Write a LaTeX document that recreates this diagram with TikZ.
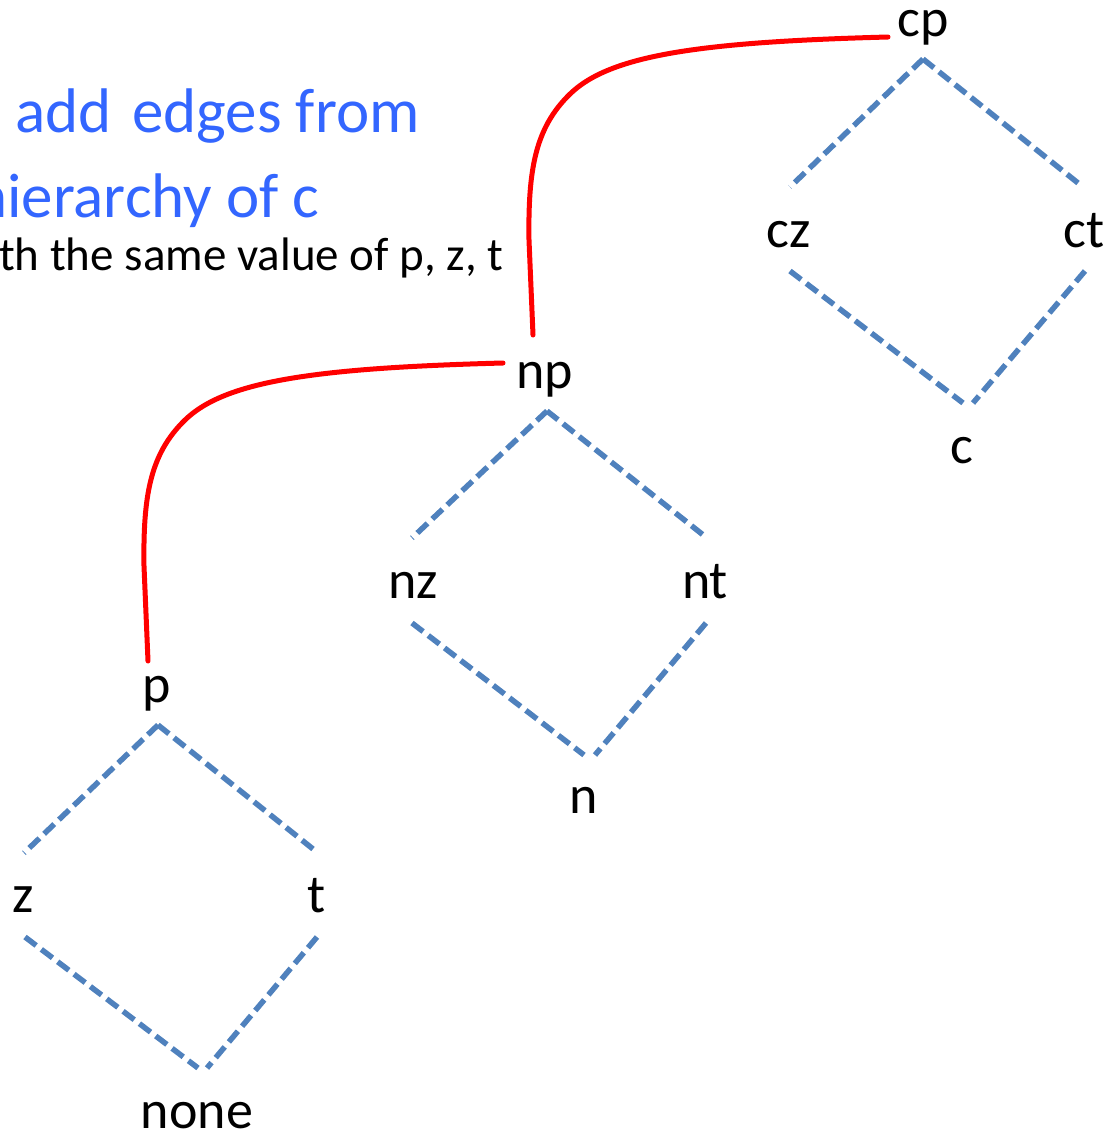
\documentclass[tikz,border=0pt]{standalone}
\usepackage{fontspec}
\setmainfont{Carlito}
\definecolor{dashblue}{RGB}{79,129,189}
\definecolor{titleblue}{RGB}{51,102,255}
\begin{document}
\begin{tikzpicture}[x=1pt,y=-1pt,
  lbl/.style={anchor=base,inner sep=0pt,font=\fontsize{54}{60}\selectfont},
  dl/.style={draw=dashblue,line width=5.5pt,dash pattern=on 14pt off 6.5pt},
  rl/.style={draw=red,line width=5pt,line cap=round}]
\useasboundingbox (0,0) rectangle (1115,1133);
% titles
\node[anchor=base west,inner sep=0pt,text=titleblue,font=\fontsize{63}{70}\selectfont] (t1) at (15,132) {add\hspace{0.1em} edges from};
\node[anchor=base west,inner sep=0pt,text=titleblue,font=\fontsize{63}{70}\selectfont] (t2) at (-26,217) {hierarchy of c};
\node[anchor=base west,inner sep=0pt,font=\fontsize{47}{54}\selectfont] (t3) at (-1,270) {th the same value of p, z, t};
% labels
\node[lbl] (cp) at (923,36) {cp};
\node[lbl] (cz) at (789,247) {cz};
\node[lbl] (ct) at (1084,247) {ct};
\node[lbl] (c) at (962,463) {c};
\node[lbl] (np) at (545,388) {np};
\node[lbl] (nz) at (413,598) {nz};
\node[lbl] (nt) at (705,598) {nt};
\node[lbl] (n) at (584,813) {n};
\node[lbl] (p) at (157,702) {p};
\node[lbl] (z) at (23,912) {z};
\node[lbl] (t) at (317,912) {t};
\node[lbl] (none) at (197,1128) {none};
% connector end points
\coordinate (cpB) at (923,59);
\coordinate (czT) at (790,187);
\coordinate (ctT) at (1083,187);
\coordinate (czB) at (790,271);
\coordinate (ctB) at (1085,271);
\coordinate (cTl) at (963,403);
\coordinate (cTr) at (973,403);
\coordinate (npB) at (547,411);
\coordinate (nzT) at (412,538);
\coordinate (ntT) at (707,538);
\coordinate (nzB) at (412,623);
\coordinate (ntB) at (706,623);
\coordinate (nTl) at (584,755);
\coordinate (nTr) at (595,755);
\coordinate (pB) at (158,725);
\coordinate (zT) at (24,853);
\coordinate (tT) at (318,853);
\coordinate (zB) at (25,937);
\coordinate (tB) at (317,937);
\coordinate (noneTl) at (198,1068);
\coordinate (noneTr) at (207,1068);
\coordinate (cpL) at (888,37);
\coordinate (npT) at (533,335);
\coordinate (npL) at (503,363);
\coordinate (pT) at (148,661);
% dashed lattice edges
\draw[dl] (cpB) -- (czT);
\draw[dl] (cpB) -- (ctT);
\draw[dl] (czB) -- (cTl);
\draw[dl] (ctB) -- (cTr);
\draw[dl] (npB) -- (nzT);
\draw[dl] (npB) -- (ntT);
\draw[dl] (nzB) -- (nTl);
\draw[dl] (ntB) -- (nTr);
\draw[dl] (pB) -- (zT);
\draw[dl] (pB) -- (tT);
\draw[dl] (zB) -- (noneTl);
\draw[dl] (tB) -- (noneTr);
% red hierarchy edges
\draw[rl] (cpL) .. controls (700,42) and (610,55) .. (570,94)
  .. controls (535,128) and (528,170) .. (529,240) -- (npT);
\draw[rl] (npL) .. controls (315,368) and (225,381) .. (185,420)
  .. controls (150,454) and (143,496) .. (144,566) -- (pT);
\end{tikzpicture}
\end{document}
